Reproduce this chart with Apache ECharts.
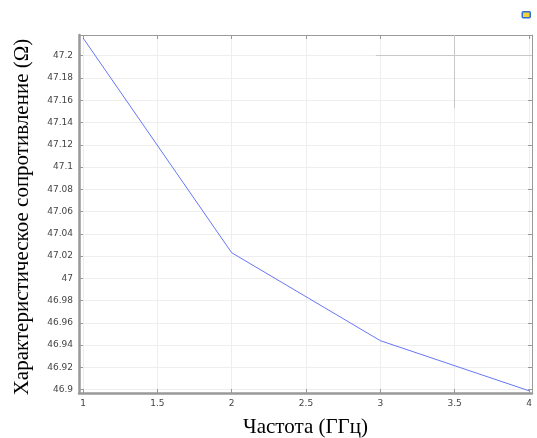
<!DOCTYPE html>
<html>
<head>
<meta charset="utf-8">
<script src="https://cdn.jsdelivr.net/npm/echarts@6/dist/echarts.min.js"></script>
<style>
  html, body { margin: 0; padding: 0; background: #fff; }
  #chart { width: 537px; height: 438px; }
</style>
</head>
<body>
<div id="chart"></div>
<script>
// частота, ГГц
const freq = [1, 2, 3, 4];
// характеристическое сопротивление, Ом
const impedance = [47.216, 47.023, 46.944, 46.899];
const xTicks = [1, 1.5, 2, 2.5, 3, 3.5, 4];
const yTicks = [46.9, 46.92, 46.94, 46.96, 46.98, 47, 47.02, 47.04, 47.06, 47.08, 47.1, 47.12, 47.14, 47.16, 47.18, 47.2];

const chart = echarts.init(document.getElementById('chart'));

const labelStyle = { fontFamily: 'DejaVu Sans', fontSize: 9, color: '#444' };
const frameLine = { lineStyle: { color: '#9a9a9a', width: 1 } };

chart.setOption({
  animation: false,
  grid: { left: 79, right: 5, top: 35, bottom: 45, outerBoundsMode: 'none', containLabel: false },
  graphic: [
    {
      type: 'rect', right: 6, top: 11,
      shape: { width: 8, height: 6, r: 1 },
      style: { fill: '#f2d13a', stroke: '#2f6fd0', lineWidth: 1.5 }
    }
  ],
  xAxis: [
    {
      type: 'value', min: 0.973, max: 4.02,
      name: 'Частота (ГГц)', nameLocation: 'middle', nameGap: 24,
      nameTextStyle: { fontFamily: 'Liberation Serif', fontSize: 21, color: '#000' },
      axisLine: { lineStyle: { color: '#999', width: 2.5 } },
      axisTick: { inside: true, length: 4, customValues: xTicks, lineStyle: { color: '#999' } },
      axisLabel: Object.assign({ customValues: xTicks, margin: 6, formatter: v => String(v) }, labelStyle),
      splitLine: { show: true, lineStyle: { color: '#eeeeee' } }
    },
    {
      type: 'value', position: 'top', min: 0.973, max: 4.02,
      axisLine: frameLine,
      axisTick: { inside: true, length: 4, customValues: xTicks, lineStyle: { color: '#999' } },
      axisLabel: { show: false },
      splitLine: { show: false }
    }
  ],
  yAxis: [
    {
      type: 'value', min: 46.897, max: 47.2186,
      name: 'Характеристическое сопротивление (Ω)', nameLocation: 'middle', nameGap: 46,
      nameTextStyle: { fontFamily: 'Liberation Serif', fontSize: 21, color: '#000', padding: [0, 6, 0, 0] },
      axisLine: { show: true, lineStyle: { color: '#999', width: 2.5 } },
      axisTick: { show: true, inside: true, length: 4, customValues: yTicks, lineStyle: { color: '#999' } },
      axisLabel: Object.assign({ customValues: yTicks, margin: 6, formatter: v => String(+v.toFixed(2)) }, labelStyle),
      splitLine: { show: true, lineStyle: { color: '#eeeeee' } }
    },
    {
      type: 'value', position: 'right', min: 46.897, max: 47.2186,
      axisLine: Object.assign({ show: true }, frameLine),
      axisTick: { show: true, inside: true, length: 4, customValues: yTicks, lineStyle: { color: '#999' } },
      axisLabel: { show: false },
      splitLine: { show: false }
    }
  ],
  series: [
    {
      type: 'line',
      data: freq.map((f, i) => [f, impedance[i]]),
      showSymbol: false,
      lineStyle: { color: '#6677f5', width: 1 },
      markLine: {
        silent: true, symbol: 'none', label: { show: false },
        lineStyle: { color: '#c8c8c8', type: 'solid', width: 1 },
        data: [
          [{ coord: [2.97, 47.2] }, { coord: [4.02, 47.2] }],
          [{ coord: [3.5, 47.2186] }, { coord: [3.5, 47.153] }]
        ]
      }
    }
  ]
});
</script>
</body>
</html>
